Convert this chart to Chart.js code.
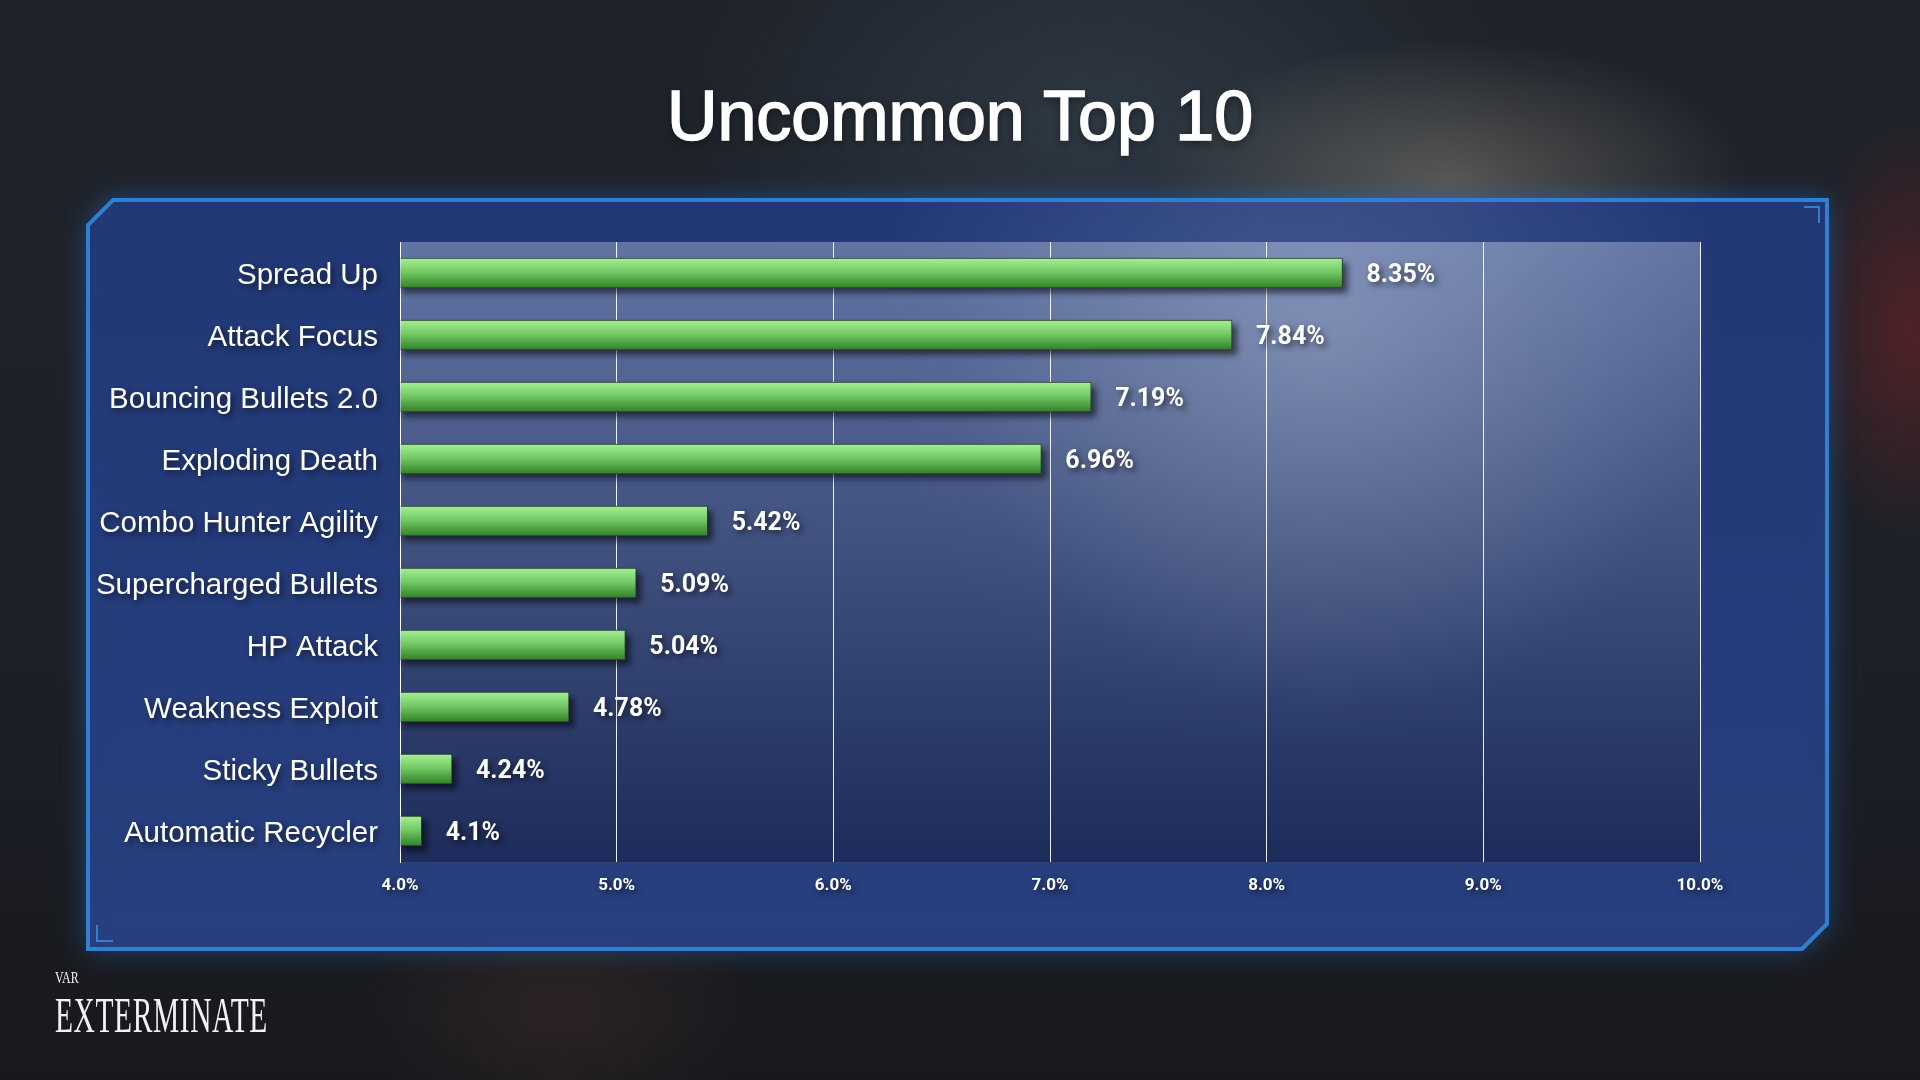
<!DOCTYPE html>
<html>
<head>
<meta charset="utf-8">
<title>Uncommon Top 10</title>
<script src="https://cdn.jsdelivr.net/npm/chart.js@4.4.1/dist/chart.umd.min.js"></script>
<style>
  html, body { margin: 0; padding: 0; }
  body {
    width: 1920px; height: 1080px; overflow: hidden; position: relative;
    background:
      radial-gradient(ellipse 300px 140px at 1450px 180px, rgba(200,192,170,0.32), rgba(200,192,170,0) 100%),
      radial-gradient(ellipse 420px 260px at 1100px 120px, rgba(70,90,105,0.4), rgba(70,90,105,0) 100%),
      radial-gradient(ellipse 110px 220px at 1910px 330px, rgba(140,35,35,0.45), rgba(140,35,35,0) 100%),
      radial-gradient(ellipse 200px 120px at 560px 1010px, rgba(90,55,45,0.3), rgba(90,55,45,0) 100%),
      linear-gradient(180deg, #1f232b 0%, #1c2027 60%, #18191e 100%);
  }
  #title {
    position: absolute; left: 0; top: 72px; width: 1920px; text-align: center;
    font-family: "Liberation Sans", Arial, sans-serif; font-size: 70px; font-weight: normal;
    color: #fff; -webkit-text-stroke: 1.6px #fff; margin: 0; line-height: 88px;
    text-shadow: 0 3px 8px rgba(0,0,0,0.5);
  }
  #chart { position: absolute; left: 0; top: 0; }
  .logo { position: absolute; left: 55px; color: #f2f2f2; font-family: "Liberation Serif", serif; transform-origin: 0 0; white-space: nowrap; }
  #logo-small { top: 968px; font-size: 17px; transform: scaleX(0.7); }
  #logo-big { top: 986px; font-size: 50px; transform: scaleX(0.59); letter-spacing: 1px; }
</style>
</head>
<body>
<h1 id="title">Uncommon Top 10</h1>
<canvas id="chart" width="1920" height="1080"></canvas>
<div class="logo" id="logo-small">VAR</div>
<div class="logo" id="logo-big">EXTERMINATE</div>
<script>
// chart data
const categories = [
  'Spread Up', 'Attack Focus', 'Bouncing Bullets 2.0', 'Exploding Death',
  'Combo Hunter Agility', 'Supercharged Bullets', 'HP Attack',
  'Weakness Exploit', 'Sticky Bullets', 'Automatic Recycler'
];
const pickRates = [8.35, 7.84, 7.19, 6.96, 5.42, 5.09, 5.04, 4.78, 4.24, 4.1];
const valueLabels = ['8.35%', '7.84%', '7.19%', '6.96%', '5.42%', '5.09%', '5.04%', '4.78%', '4.24%', '4.1%'];
const axisMin = 4;
const axisMax = 10;

const BAR_H = 30;

// panel frame + plot background
const panelPlugin = {
  id: 'panel',
  beforeDraw(chart) {
    const ctx = chart.ctx;
    const { left, top, right, bottom } = chart.chartArea;
    const L = 88, T = 200, R = 1827, B = 949, cut = 25;

    ctx.save();
    ctx.beginPath();
    ctx.moveTo(L + cut, T);
    ctx.lineTo(R, T);
    ctx.lineTo(R, B - cut);
    ctx.lineTo(R - cut, B);
    ctx.lineTo(L, B);
    ctx.lineTo(L, T + cut);
    ctx.closePath();
    const pg = ctx.createLinearGradient(0, T, 0, B);
    pg.addColorStop(0, 'rgba(34,56,118,0.96)');
    pg.addColorStop(1, 'rgba(41,64,128,0.96)');
    ctx.fillStyle = pg;
    ctx.shadowColor = 'rgba(50,130,230,0.45)';
    ctx.shadowBlur = 28;
    ctx.fill();
    ctx.shadowBlur = 0;
    // soft light spot from the blurred backdrop
    const spot = ctx.createRadialGradient(1300, 330, 20, 1300, 330, 420);
    spot.addColorStop(0, 'rgba(190,200,225,0.2)');
    spot.addColorStop(1, 'rgba(190,200,225,0)');
    ctx.fillStyle = spot;
    ctx.fill();
    ctx.lineWidth = 4;
    ctx.strokeStyle = '#2f80d3';
    ctx.stroke();

    // corner brackets
    ctx.lineWidth = 2;
    ctx.beginPath();
    ctx.moveTo(1804, 207); ctx.lineTo(1819, 207); ctx.lineTo(1819, 223);
    ctx.moveTo(97, 925); ctx.lineTo(97, 941); ctx.lineTo(113, 941);
    ctx.stroke();

    // plot area
    const g = ctx.createLinearGradient(0, top, 0, bottom);
    g.addColorStop(0, 'rgba(150,165,200,0.55)');
    g.addColorStop(1, 'rgba(20,28,60,0.55)');
    ctx.fillStyle = g;
    ctx.fillRect(left, top, right - left, bottom - top);
    const spot2 = ctx.createRadialGradient(1330, 330, 10, 1330, 330, 380);
    spot2.addColorStop(0, 'rgba(200,210,230,0.22)');
    spot2.addColorStop(1, 'rgba(200,210,230,0)');
    ctx.fillStyle = spot2;
    ctx.fillRect(left, top, right - left, bottom - top);
    ctx.restore();
  },
  beforeDatasetDraw(chart, args) {
    // drop shadow under bars
    const ctx = chart.ctx;
    ctx.save();
    ctx.filter = 'blur(3px)';
    ctx.fillStyle = 'rgba(0,0,0,0.55)';
    args.meta.data.forEach(bar => {
      ctx.fillRect(bar.base + 2, bar.y - bar.height / 2 + 5, bar.x - bar.base + 3, bar.height);
    });
    ctx.restore();
  },
  afterDatasetsDraw(chart) {
    const ctx = chart.ctx;
    // shadow stays on for value labels and axis labels (z=1), removed in afterDraw
    ctx.save();
    ctx.shadowColor = 'rgba(0,0,0,0.6)';
    ctx.shadowBlur = 6;
    ctx.shadowOffsetX = 3;
    ctx.shadowOffsetY = 3;
    const meta = chart.getDatasetMeta(0);
    ctx.save();
    ctx.font = 'bold 25px Roboto, "Liberation Sans", sans-serif';
    ctx.fillStyle = '#fff';
    ctx.textAlign = 'left';
    ctx.textBaseline = 'middle';
    meta.data.forEach((bar, i) => {
      ctx.fillText(valueLabels[i], bar.x + 24, bar.y + 3);
    });
    ctx.restore();
  },
  afterDraw(chart) {
    chart.ctx.restore();
  }
};

function barGradient(context) {
  const chart = context.chart;
  const y = chart.scales.y;
  const c = y ? y.getPixelForValue(context.dataIndex) : NaN;
  if (!isFinite(c)) return '#6cc95e';
  const g = chart.ctx.createLinearGradient(0, c - BAR_H / 2, 0, c + BAR_H / 2);
  g.addColorStop(0, '#a4ef95');
  g.addColorStop(0.45, '#74cb66');
  g.addColorStop(1, '#327f27');
  return g;
}

new Chart(document.getElementById('chart'), {
  type: 'bar',
  data: {
    labels: categories,
    datasets: [{
      data: pickRates,
      base: axisMin,
      backgroundColor: barGradient,
      borderColor: '#2d3b2c',
      borderWidth: 1,
      borderSkipped: 'start',
      barThickness: BAR_H
    }]
  },
  plugins: [panelPlugin],
  options: {
    indexAxis: 'y',
    responsive: false,
    devicePixelRatio: 1,
    animation: false,
    layout: { padding: { top: 242, right: 220, bottom: 158, left: 0 } },
    scales: {
      x: {
        min: axisMin,
        max: axisMax,
        afterFit: scale => { scale.height = 60; },
        grid: { color: 'rgba(255,255,255,0.92)', lineWidth: 1, drawTicks: false },
        border: { display: false },
        ticks: {
          stepSize: 1,
          padding: 14,
          z: 1,
          color: '#fff',
          font: { family: 'Roboto, "Liberation Sans", sans-serif', size: 17, weight: 'bold' },
          callback: v => v.toFixed(1) + '%'
        }
      },
      y: {
        afterFit: scale => { scale.width = 400; },
        grid: { display: false, drawTicks: false },
        border: { display: true, color: '#fff', width: 1 },
        ticks: {
          padding: 22,
          labelOffset: 3,
          z: 1,
          color: '#fff',
          font: { family: '"Liberation Sans", Arial, sans-serif', size: 29.5 }
        }
      }
    },
    plugins: {
      legend: { display: false },
      tooltip: { enabled: false }
    }
  }
});
</script>
</body>
</html>
